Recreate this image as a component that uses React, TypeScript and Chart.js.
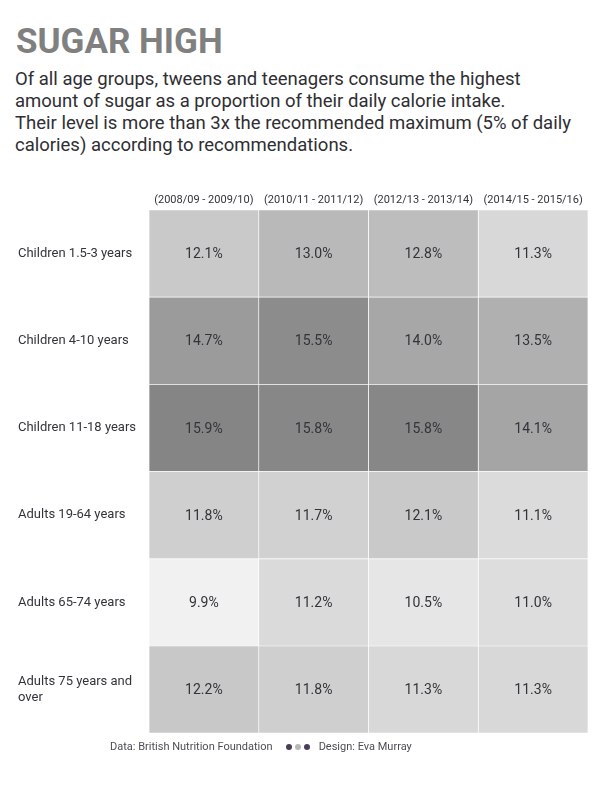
import React, { useEffect, useRef } from "react";
import { Chart, registerables } from "chart.js";
Chart.register(...registerables);

const rowLabels: (string | string[])[] = [
  "Children 1.5-3 years",
  "Children 4-10 years",
  "Children 11-18 years",
  "Adults 19-64 years",
  "Adults 65-74 years",
  ["Adults 75 years and", "over"],
];
const periods = ["(2008/09 - 2009/10)", "(2010/11 - 2011/12)", "(2012/13 - 2013/14)", "(2014/15 - 2015/16)"];
const period1 = [12.1, 14.7, 15.9, 11.8, 9.9, 12.2];
const period2 = [13.0, 15.5, 15.8, 11.7, 11.2, 11.8];
const period3 = [12.8, 14.0, 15.8, 12.1, 10.5, 11.3];
const period4 = [11.3, 13.5, 14.1, 11.1, 11.0, 11.3];
const periodValues = [period1, period2, period3, period4];

const FONT = "Roboto";

function cellColor(v: number) {
  const g = Math.max(0, Math.min(255, Math.round(240 - (v - 9.9) * 18)));
  return `rgb(${g},${Math.min(255, g + 1)},${g})`;
}

const valueLabels = {
  id: "valueLabels",
  afterDatasetsDraw(chart: any) {
    const ctx = chart.ctx;
    ctx.save();
    ctx.font = `14px ${FONT}`;
    ctx.fillStyle = "#33333b";
    ctx.textAlign = "center";
    ctx.textBaseline = "middle";
    chart.data.datasets.forEach((ds: any, di: number) => {
      const meta = chart.getDatasetMeta(di);
      meta.data.forEach((el: any, i: number) => {
        const p = el.getCenterPoint();
        ctx.fillText(`${ds.values[i].toFixed(1)}%`, p.x, p.y + 1);
      });
    });
    ctx.restore();
  },
};

export default function App() {
  const ref = useRef<HTMLCanvasElement>(null);
  useEffect(() => {
    if (!ref.current) return;
    const chart = new Chart(ref.current, {
      type: "bar",
      data: {
        labels: rowLabels as any,
        datasets: periodValues.map((vals, i) => ({
          label: periods[i],
          values: vals,
          data: vals.map(() => 1),
          backgroundColor: vals.map(cellColor),
          borderColor: "#ffffff",
          borderWidth: 0.7,
          borderSkipped: false,
          barPercentage: 1,
          categoryPercentage: 1,
        })) as any,
      },
      options: {
        indexAxis: "y",
        animation: false,
        responsive: false,
        maintainAspectRatio: false,
        layout: { padding: { left: 18, right: 12, top: 0, bottom: 8 } },
        plugins: { legend: { display: false }, tooltip: { enabled: false }, title: { display: false } },
        scales: {
          x: { display: false, stacked: true, min: 0, max: 4 },
          x2: {
            type: "category",
            position: "top",
            labels: periods,
            offset: true,
            grid: { display: false, drawTicks: false },
            border: { display: false },
            ticks: { padding: 3, color: "#33333b", font: { family: FONT, size: 11 }, maxRotation: 0, autoSkip: false },
            afterFit: (s: any) => { s.height = 30; },
          } as any,
          y: {
            stacked: true,
            grid: { display: false, drawTicks: false },
            border: { display: false },
            ticks: {
              crossAlign: "far",
              color: "#33333b",
              font: { family: FONT, size: 13, lineHeight: 1.2 },
              autoSkip: false,
            },
            afterFit: (s: any) => { s.width = 131; },
          } as any,
        },
      },
      plugins: [valueLabels],
    });
    return () => chart.destroy();
  }, []);

  return (
    <div style={{ position: "absolute", left: 0, top: 0, width: 600, height: 800, background: "#fff", fontFamily: FONT }}>
      <div style={{ position: "absolute", left: 16, top: 23.5, fontSize: 35, lineHeight: 1, fontWeight: 700, color: "#808080", whiteSpace: "nowrap" }}>
        SUGAR HIGH
      </div>
      <div style={{ position: "absolute", left: 15, top: 67.5, fontSize: 18.5, lineHeight: "22.3px", color: "#2e2e33", whiteSpace: "nowrap" }}>
        Of all age groups, tweens and teenagers consume the highest<br />
        amount of sugar as a proportion of their daily calorie intake.<br />
        Their level is more than 3x the recommended maximum (5% of daily<br />
        calories) according to recommendations.
      </div>
      <canvas ref={ref} width={600} height={564} style={{ position: "absolute", left: 0, top: 180, width: 600, height: 564 }} />
      <div style={{ position: "absolute", left: 110, top: 741, fontSize: 11, lineHeight: 1, color: "#4d4d57", display: "flex", alignItems: "center", whiteSpace: "nowrap" }}>
        <span>Data: British Nutrition Foundation</span>
        <span style={{ display: "inline-flex", gap: 3, margin: "0 9px 0 13px" }}>
          <span style={{ width: 6, height: 6, borderRadius: 3, background: "#4b3d55", display: "inline-block" }} />
          <span style={{ width: 6, height: 6, borderRadius: 3, background: "#b8b8b8", display: "inline-block" }} />
          <span style={{ width: 6, height: 6, borderRadius: 3, background: "#4b3d55", display: "inline-block" }} />
        </span>
        <span>Design: Eva Murray</span>
      </div>
    </div>
  );
}
